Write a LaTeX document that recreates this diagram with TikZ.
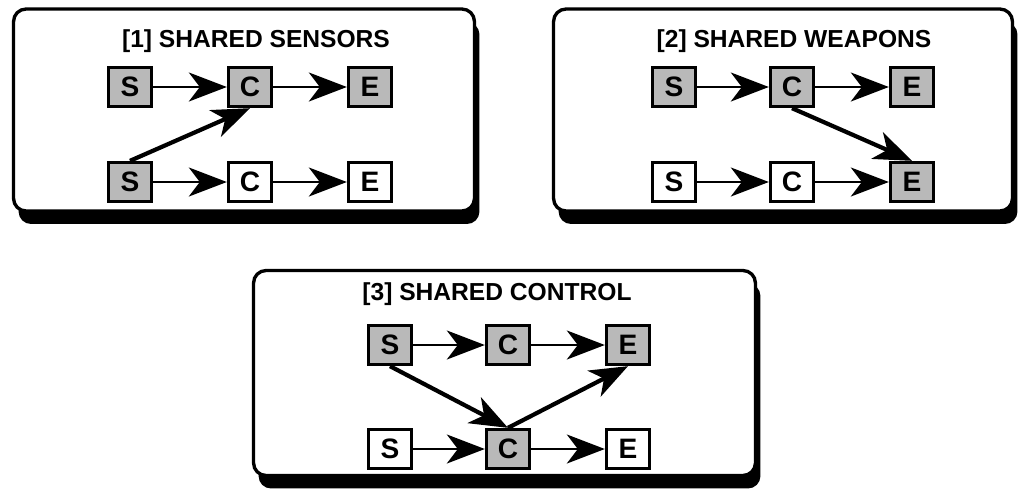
\documentclass[tikz,border=0pt]{standalone}
\usepackage{fontspec}
\setsansfont{Liberation Sans}
\usetikzlibrary{arrows.meta,shadows}

\begin{document}
\begin{tikzpicture}[font=\sffamily\bfseries, x=0.02cm, y=-0.02cm]
    % Setup the styles for the panels, boxes and arrows
    \tikzset{panel style/.style={
        draw,
        rounded corners=0.25cm,
        line width=1.9pt,
        fill=white,
        drop shadow={shadow xshift=0.1cm, shadow yshift=-0.26cm,
                     fill=black, opacity=1}},
      box style/.style={
        draw,
        line width=1.9pt,
        minimum width=0.86cm,
        minimum height=0.78cm,
        inner sep=0pt,
        fill=white,
        font=\sffamily\bfseries\fontsize{16}{16}\selectfont},
      shared/.style={box style, fill=gray!55},
      title style/.style={font=\sffamily\bfseries\fontsize{14}{14}\selectfont},
      link/.style={->, line width=1.5pt,
        >={Stealth[length=0.76cm, width=0.58cm, inset=0.22cm]}},
      cross/.style={link, line width=2.4pt}}
    \useasboundingbox (0,0) rectangle (1018,491);

    % Draw the panels
    \node[panel style, minimum width=9.22cm, minimum height=4.04cm] at (244,110)   (panel1) {};
    \node[panel style, minimum width=9.18cm, minimum height=4.04cm] at (783,110)   (panel2) {};
    \node[panel style, minimum width=10.04cm, minimum height=4.1cm] at (504.5,373) (panel3) {};

    \node[title style] at (256,41)  (title1) {[1] SHARED SENSORS};
    \node[title style] at (794,41)  (title2) {[2] SHARED WEAPONS};
    \node[title style] at (497,294) (title3) {[3] SHARED CONTROL};

    % [1] shared sensors
    \node[shared]    at (130,87)  (p1s1) {S};
    \node[shared]    at (250,87)  (p1c1) {C};
    \node[shared]    at (370,87)  (p1e1) {E};
    \node[shared]    at (130,182) (p1s2) {S};
    \node[box style] at (250,182) (p1c2) {C};
    \node[box style] at (370,182) (p1e2) {E};

    % [2] shared weapons
    \node[shared]    at (674,87)  (p2s1) {S};
    \node[shared]    at (792,87)  (p2c1) {C};
    \node[shared]    at (912,87)  (p2e1) {E};
    \node[box style] at (674,182) (p2s2) {S};
    \node[box style] at (792,182) (p2c2) {C};
    \node[shared]    at (912,182) (p2e2) {E};

    % [3] shared control
    \node[shared]    at (390,345) (p3s1) {S};
    \node[shared]    at (508,345) (p3c1) {C};
    \node[shared]    at (628,345) (p3e1) {E};
    \node[box style] at (390,449) (p3s2) {S};
    \node[shared]    at (508,449) (p3c2) {C};
    \node[box style] at (628,449) (p3e2) {E};

    % Connect the boxes
    \draw[link] (p1s1) -- (p1c1);
    \draw[link] (p1c1) -- (p1e1);
    \draw[link] (p1s2) -- (p1c2);
    \draw[link] (p1c2) -- (p1e2);
    \draw[cross] (p1s2.north) -- (p1c1.south);

    \draw[link] (p2s1) -- (p2c1);
    \draw[link] (p2c1) -- (p2e1);
    \draw[link] (p2s2) -- (p2c2);
    \draw[link] (p2c2) -- (p2e2);
    \draw[cross] (p2c1.south) -- (p2e2.north);

    \draw[link] (p3s1) -- (p3c1);
    \draw[link] (p3c1) -- (p3e1);
    \draw[link] (p3s2) -- (p3c2);
    \draw[link] (p3c2) -- (p3e2);
    \draw[cross] (p3s1.south) -- (p3c2.north);
    \draw[cross] (p3c2.north) -- (p3e1.south);
\end{tikzpicture}
\end{document}
